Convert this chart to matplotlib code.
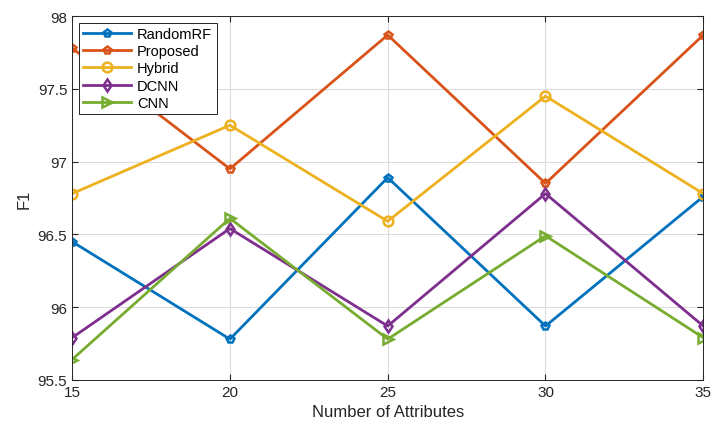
import numpy as np
import matplotlib
matplotlib.use('Agg')
import matplotlib.pyplot as plt

# data
attributes = [15, 20, 25, 30, 35]
randomrf = [96.45, 95.78, 96.89, 95.87, 96.76]
proposed = [97.78, 96.95, 97.87, 96.85, 97.87]
hybrid = [96.78, 97.25, 96.59, 97.45, 96.78]
dcnn = [95.79, 96.54, 95.87, 96.78, 95.87]
cnn = [95.64, 96.61, 95.78, 96.49, 95.79]

series = [
    ('RandomRF', randomrf, '#0072BD', 'p', 6),
    ('Proposed', proposed, '#D95319', 'p', 6),
    ('Hybrid', hybrid, '#EDB120', 'o', 7),
    ('DCNN', dcnn, '#7E2F8E', 'd', 6.5),
    ('CNN', cnn, '#77AC30', '>', 6.5),
]

plt.rcParams['font.family'] = ['Arial', 'Liberation Sans', 'DejaVu Sans']

fig = plt.figure(figsize=(7.14, 4.27), dpi=100)
ax = fig.add_axes([0.101, 0.108, 0.884, 0.852])

for name, vals, col, mk, ms in series:
    ax.plot(attributes, vals, color=col, lw=2, marker=mk, markersize=ms,
            markerfacecolor='none', markeredgewidth=1.8, label=name)

ax.set_xlim(15, 35)
ax.set_ylim(95.5, 98)
ax.set_xticks(attributes)
ax.set_yticks([95.5, 96, 96.5, 97, 97.5, 98])
ax.set_yticklabels(['95.5', '96', '96.5', '97', '97.5', '98'])
ax.grid(True, color='#dcdcdc', lw=0.8)
ax.set_axisbelow(True)
for s in ax.spines.values():
    s.set_color('#262626')
    s.set_linewidth(0.7)
ax.tick_params(direction='in', top=True, right=True, labelsize=11,
               colors='#262626', length=4)
ax.set_xlabel('Number of Attributes', fontsize=12, color='#262626')
ax.set_ylabel('F1', fontsize=12, color='#262626')

leg = ax.legend(loc='upper left', fontsize=10.5, handlelength=3.3, borderpad=0.3,
                labelspacing=0.22, handletextpad=0.4, fancybox=False,
                framealpha=1, edgecolor='#262626', borderaxespad=0.45)
leg.get_frame().set_linewidth(0.7)

fig.savefig('out.png', dpi=100)
